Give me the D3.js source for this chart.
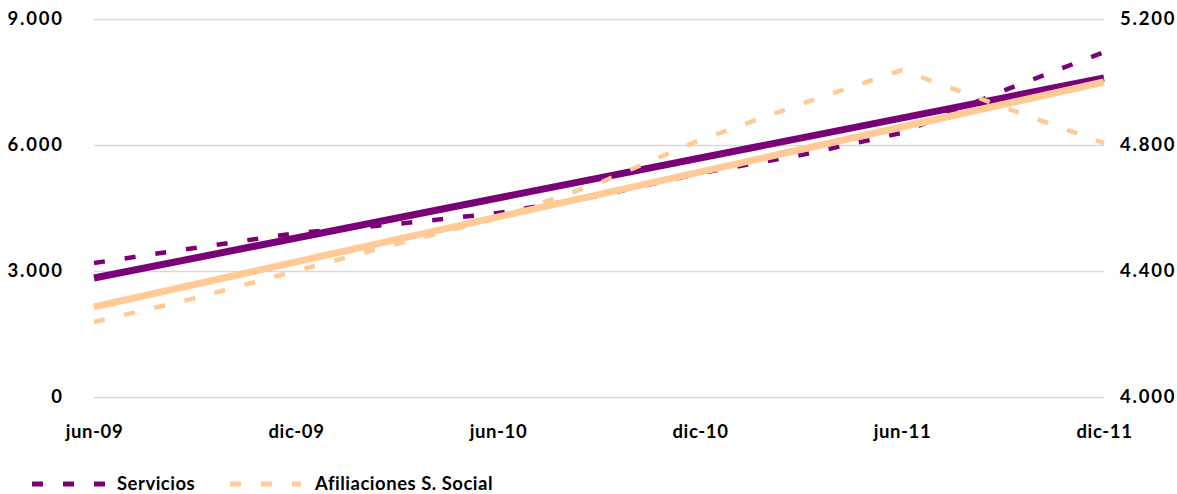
<!DOCTYPE html>
<html>
<head>
<meta charset="utf-8">
<script src="https://cdn.jsdelivr.net/npm/d3@7"></script>
<style>
  html, body { margin: 0; padding: 0; background: #fff; }
  svg { display: block; }
  text { font-family: Lato, "Open Sans", sans-serif; font-weight: bold; fill: #000; }
</style>
</head>
<body>
<svg id="chart" width="1177" height="494"></svg>
<script>
// ---- data ----
const categorias = ["jun-09","sep-09","dic-09","mar-10","jun-10","sep-10","dic-10","mar-11","jun-11","sep-11","dic-11"];
const servicios = [3190, 3550, 3900, 4120, 4380, 4790, 5330, 5760, 6290, 7290, 8210];
const afiliaciones = [4238, 4314, 4400, 4486, 4568, 4679, 4816, 4930, 5038, 4921, 4806];
const tendenciaServicios = [2833, 7595];      // linear trend at first / last category
const tendenciaAfiliaciones = [4286, 5000];
const etiquetasX = ["jun-09","dic-09","jun-10","dic-10","jun-11","dic-11"];
const ticksIzq = [0, 3000, 6000, 9000];
const ticksDer = [4000, 4400, 4800, 5200];
const series = ["Servicios", "Afiliaciones S. Social"];

// ---- layout ----
const mLeft = 94, mRight = 1104, mTop = 19, mBottom = 397;
const colServ = "#7a0078", colAfil = "#ffca96";

const svg = d3.select("#chart");
const es = d3.formatLocale({decimal: ",", thousands: ".", grouping: [3], currency: ["", "€"]});
const fmt = es.format(",d");

const x = d3.scalePoint().domain(categorias).range([mLeft, mRight]);
const yL = d3.scaleLinear().domain([0, 9000]).range([mBottom, mTop]);
const yR = d3.scaleLinear().domain([4000, 5200]).range([mBottom, mTop]);

// gridlines
const grid = svg.append("g").attr("transform", `translate(${mLeft},0)`)
  .call(d3.axisLeft(yL).tickValues(ticksIzq).tickSize(-(mRight - mLeft)).tickFormat(""));
grid.select(".domain").remove();
grid.selectAll("line").attr("stroke", "#d9d9d9").attr("stroke-width", 1.3);

function styleText(sel, spacing) {
  sel.selectAll("text").attr("font-size", 18.5).style("font-family", "Lato")
    .style("font-weight", "bold").style("letter-spacing", spacing + "px").attr("fill", "#000");
}

// left axis
const axL = svg.append("g").attr("transform", `translate(${mLeft},0)`)
  .call(d3.axisLeft(yL).tickValues(ticksIzq).tickSize(0).tickPadding(32).tickFormat(fmt));
axL.select(".domain").remove();
styleText(axL, 1.8);
axL.selectAll("text").attr("dx", 1.8);

// right axis
const axR = svg.append("g").attr("transform", `translate(${mRight},0)`)
  .call(d3.axisRight(yR).tickValues(ticksDer).tickSize(0).tickPadding(16).tickFormat(fmt));
axR.select(".domain").remove();
styleText(axR, 1.8);

// bottom axis
const axB = svg.append("g").attr("transform", `translate(0,${mBottom})`)
  .call(d3.axisBottom(x).tickValues(etiquetasX).tickSize(0).tickPadding(28));
axB.select(".domain").remove();
styleText(axB, 0.6);

// lines
const lineL = d3.line().x((d, i) => x(categorias[i])).y(d => yL(d));
const lineR = d3.line().x((d, i) => x(categorias[i])).y(d => yR(d));
const ends = [categorias[0], categorias[categorias.length - 1]];

svg.append("path").datum(servicios).attr("d", lineL)
  .attr("fill", "none").attr("stroke", colServ).attr("stroke-width", 4.5)
  .attr("stroke-dasharray", "11,20");
svg.append("path").datum(tendenciaServicios)
  .attr("d", d3.line().x((d, i) => x(ends[i])).y(d => yL(d)))
  .attr("fill", "none").attr("stroke", colServ).attr("stroke-width", 7);
svg.append("path").datum(afiliaciones).attr("d", lineR)
  .attr("fill", "none").attr("stroke", colAfil).attr("stroke-width", 4.5)
  .attr("stroke-dasharray", "11,20");
svg.append("path").datum(tendenciaAfiliaciones)
  .attr("d", d3.line().x((d, i) => x(ends[i])).y(d => yR(d)))
  .attr("fill", "none").attr("stroke", colAfil).attr("stroke-width", 7);

// legend
const legend = [
  {name: series[0], color: colServ, x0: 32, x1: 105, tx: 117},
  {name: series[1], color: colAfil, x0: 230, x1: 301, tx: 315}
];
const lg = svg.append("g");
legend.forEach(l => {
  lg.append("line").attr("x1", l.x0).attr("x2", l.x1).attr("y1", 484).attr("y2", 484)
    .attr("stroke", l.color).attr("stroke-width", 5).attr("stroke-dasharray", "11,20");
  lg.append("text").attr("x", l.tx).attr("y", 490).attr("font-size", 18.5)
    .style("letter-spacing", "0.5px").text(l.name);
});
</script>
</body>
</html>
